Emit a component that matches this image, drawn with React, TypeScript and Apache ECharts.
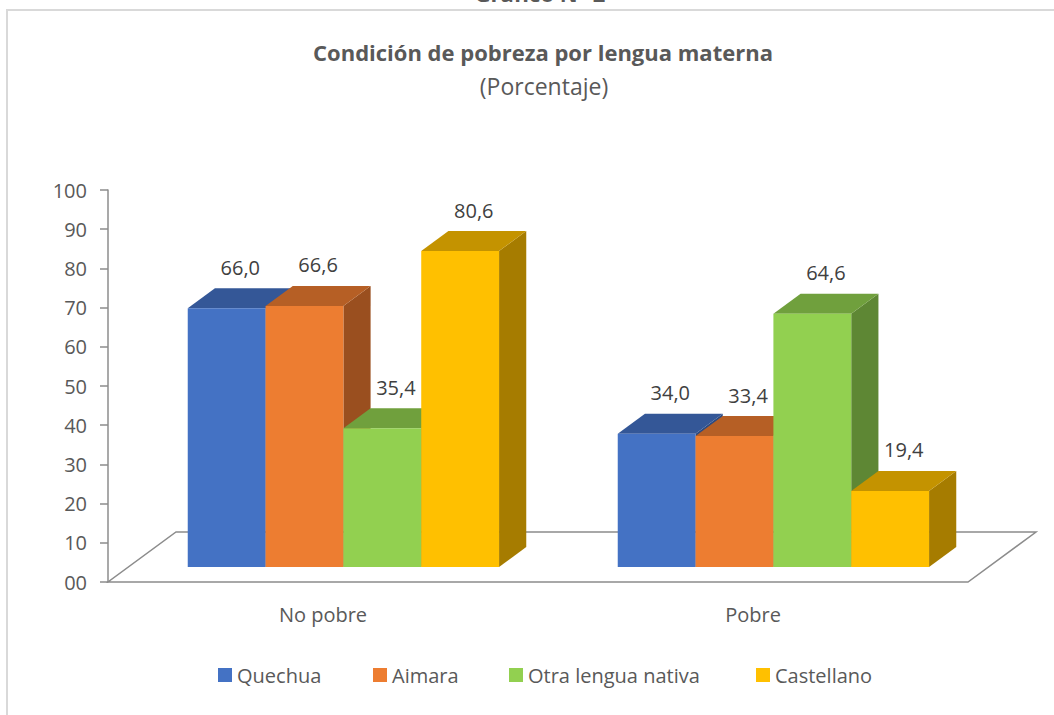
import React, { useEffect, useRef } from "react";
import * as echarts from "echarts";

// ---- data ----
const categories = ["No pobre", "Pobre"];
const seriesNames = ["Quechua", "Aimara", "Otra lengua nativa", "Castellano"];
const quechua = [66.0, 34.0];
const aimara = [66.6, 33.4];
const otraLengua = [35.4, 64.6];
const castellano = [80.6, 19.4];
const seriesValues = [quechua, aimara, otraLengua, castellano];
const yTickLabels = ["00", "10", "20", "30", "40", "50", "60", "70", "80", "90", "100"];
const headerText = "Gráfico N° 2";
const titleText = "Condición de pobreza por lengua materna";
const subtitleText = "(Porcentaje)";

// ---- styles / layout ----
const FONT = "'Open Sans', 'Noto Sans', sans-serif";
const FRONT = ["#4472C4", "#ED7D31", "#92D050", "#FFC000"];
const TOP = ["#345797", "#B65F25", "#70A03D", "#C49300"];
const SIDE = ["#2C4A80", "#9A4F1F", "#5E8734", "#A67C00"];
const AXIS_GRAY = "#8C8C8C";
const TEXT_GRAY = "#595959";
const LABEL_GRAY = "#404040";
const FLOOR_DX = 68; // full floor depth (px) horizontally
const FLOOR_DY = 50; // full floor depth (px) vertically
const BAR_FRONT = 0.3; // bar front plane as fraction of depth
const BAR_BACK = 0.7; // bar back plane
const BAR_FRAC = 0.181; // bar width as fraction of category band
const LEGEND_LEFT = [218, 373, 509, 756];

function fmt(v: number) {
  return v.toFixed(1).replace(".", ",");
}

function makeBarRender(si: number) {
  return (params: any, api: any) => {
    const c = api.value(0);
    const v = api.value(1);
    const base = api.coord([c, 0]);
    const topPt = api.coord([c, v]);
    const band = api.size([1, 0])[0];
    const w = band * BAR_FRAC;
    const fdx = FLOOR_DX * BAR_FRONT;
    const fdy = FLOOR_DY * BAR_FRONT;
    const ddx = FLOOR_DX * (BAR_BACK - BAR_FRONT);
    const ddy = FLOOR_DY * (BAR_BACK - BAR_FRONT);
    const x0 = base[0] + fdx - 2 * w + si * w;
    const x1 = x0 + w;
    const y0 = base[1] - fdy;
    const y1 = topPt[1] - fdy;
    return {
      type: "group",
      children: [
        {
          type: "polygon",
          shape: { points: [[x1, y0], [x1 + ddx, y0 - ddy], [x1 + ddx, y1 - ddy], [x1, y1]] },
          style: { fill: SIDE[si] },
        },
        {
          type: "polygon",
          shape: { points: [[x0, y1], [x1, y1], [x1 + ddx, y1 - ddy], [x0 + ddx, y1 - ddy]] },
          style: { fill: TOP[si] },
        },
        {
          type: "rect",
          shape: { x: x0, y: y1, width: w, height: y0 - y1 },
          style: { fill: FRONT[si] },
        },
        {
          type: "text",
          x: x0 + w / 2 + ddx / 2,
          y: y1 - ddy - 21,
          z2: 100,
          style: {
            text: fmt(v),
            fontSize: 20,
            fontFamily: FONT,
            fill: LABEL_GRAY,
            align: "center",
            verticalAlign: "middle",
          },
        },
      ],
    };
  };
}

function floorRender(params: any, api: any) {
  const cs = params.coordSys;
  const x = cs.x;
  const yb = cs.y + cs.height;
  const w = cs.width;
  return {
    type: "polygon",
    z2: -10,
    shape: {
      points: [
        [x, yb],
        [x + w, yb],
        [x + w + FLOOR_DX, yb - FLOOR_DY],
        [x + FLOOR_DX, yb - FLOOR_DY],
      ],
    },
    style: { fill: "#ffffff", stroke: AXIS_GRAY, lineWidth: 1.5 },
  };
}

export default function App() {
  const ref = useRef<HTMLDivElement>(null);
  useEffect(() => {
    if (!ref.current) return;
    const chart = echarts.init(ref.current, undefined, { renderer: "svg" });
    const option: any = {
      animation: false,
      backgroundColor: "#ffffff",
      grid: { left: 108, right: 86, top: 190, bottom: 133 },
      xAxis: {
        type: "category",
        data: categories,
        axisLine: { show: false },
        axisTick: { show: false },
        splitLine: { show: false },
        axisLabel: { fontSize: 20, color: TEXT_GRAY, fontFamily: FONT, margin: 22 },
      },
      yAxis: {
        type: "value",
        min: 0,
        max: 100,
        interval: 10,
        axisLine: { show: true, lineStyle: { color: AXIS_GRAY, width: 1.5 } },
        axisTick: { show: true, length: 8, lineStyle: { color: AXIS_GRAY, width: 1.5 } },
        splitLine: { show: false },
        axisLabel: {
          fontSize: 20,
          color: TEXT_GRAY,
          fontFamily: FONT,
          margin: 21,
          formatter: (v: number) => yTickLabels[Math.round(v / 10)],
        },
      },
      legend: seriesNames.map((name, i) => ({
        data: [name],
        left: LEGEND_LEFT[i],
        top: 665,
        padding: 0,
        icon: "rect",
        itemWidth: 14,
        itemHeight: 14,
        textStyle: { fontSize: 20, color: TEXT_GRAY, fontFamily: FONT },
        selectedMode: false,
      })),
      series: [
        {
          type: "custom",
          name: "floor",
          renderItem: floorRender,
          data: [[0, 0]],
          silent: true,
          z: 1,
        },
        ...seriesNames.map((name, i) => ({
          type: "custom",
          name,
          itemStyle: { color: FRONT[i] },
          renderItem: makeBarRender(i),
          encode: { x: 0, y: 1 },
          data: seriesValues[i].map((v, c) => [c, v]),
        })),
      ],
      graphic: [
        {
          type: "rect",
          shape: { x: 7, y: 10, width: 1200, height: 900 },
          style: { fill: "none", stroke: "#D9D9D9", lineWidth: 2 },
          silent: true,
        },
        {
          type: "text",
          x: 540,
          y: -7,
          style: {
            text: headerText,
            fontSize: 22,
            fontWeight: "bold",
            fontFamily: FONT,
            fill: TEXT_GRAY,
            align: "center",
            verticalAlign: "middle",
          },
        },
        {
          type: "text",
          x: 543,
          y: 52,
          style: {
            text: titleText,
            fontSize: 22,
            fontWeight: "bold",
            fontFamily: FONT,
            fill: TEXT_GRAY,
            align: "center",
            verticalAlign: "middle",
          },
        },
        {
          type: "text",
          x: 544,
          y: 86,
          style: {
            text: subtitleText,
            fontSize: 23,
            fontFamily: FONT,
            fill: TEXT_GRAY,
            align: "center",
            verticalAlign: "middle",
          },
        },
      ],
    };
    chart.setOption(option);
    return () => chart.dispose();
  }, []);
  return (
    <div
      ref={ref}
      style={{ position: "fixed", left: 0, top: 0, width: 1054, height: 715, background: "#fff" }}
    />
  );
}
